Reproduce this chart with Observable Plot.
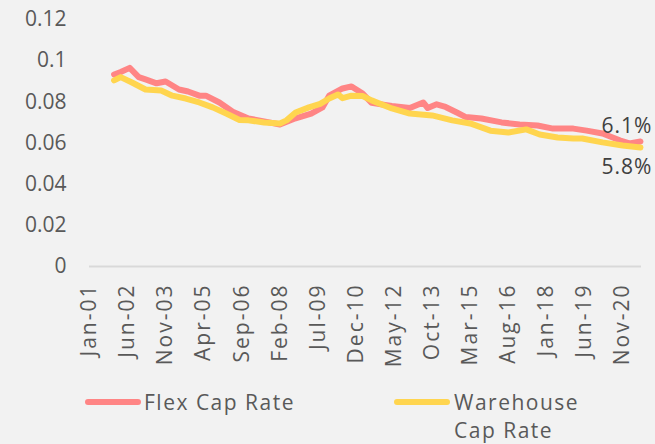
<!DOCTYPE html>
<html><head><meta charset="utf-8">
<script src="https://cdn.jsdelivr.net/npm/d3@7"></script>
<script src="https://cdn.jsdelivr.net/npm/@observablehq/plot@0.6"></script>
<style>
html,body{margin:0;padding:0;background:#f2f2f2;}
#wrap{position:relative;width:655px;height:444px;font-family:"Open Sans",sans-serif;color:#595959;overflow:hidden;}
#wrap svg{display:block;}
g[aria-label="x-axis tick label"] text{letter-spacing:2px;}
g[aria-label="text"] text{letter-spacing:1px;}
.sw{position:absolute;height:6px;border-radius:3px;width:56px;}
.lt{position:absolute;font-size:21px;line-height:28px;letter-spacing:1.5px;white-space:nowrap;}
</style></head><body><div id="wrap"></div>
<script>
const flexDates = ["2001-12","2002-03","2002-07","2002-11","2003-02","2003-07","2003-11","2004-05","2004-09","2005-02","2005-05","2005-11","2006-05","2006-12","2007-07","2008-02","2008-09","2009-04","2009-09","2009-12","2010-06","2010-10","2011-03","2011-07","2012-04","2012-12","2013-06","2013-08","2013-12","2014-04","2014-09","2015-01","2015-08","2016-05","2017-01","2017-09","2018-04","2019-01","2019-07","2020-02","2020-10","2021-02","2021-07"];
const flexValues = [0.0933,0.0945,0.0965,0.0920,0.0909,0.0890,0.0899,0.0860,0.0850,0.0830,0.0830,0.0797,0.0752,0.0719,0.0705,0.0690,0.0720,0.0743,0.0773,0.0830,0.0865,0.0875,0.0840,0.0795,0.0780,0.0770,0.0797,0.0770,0.0788,0.0775,0.0748,0.0726,0.0719,0.0700,0.0690,0.0685,0.0670,0.0670,0.0660,0.0646,0.0612,0.0598,0.0607];
const warehouseDates = ["2001-12","2002-03","2002-08","2003-02","2003-09","2004-02","2004-08","2005-02","2005-08","2006-02","2006-08","2006-12","2007-07","2008-02","2008-05","2008-09","2009-03","2009-08","2009-12","2010-04","2010-06","2010-10","2011-03","2011-07","2012-04","2012-12","2013-10","2014-07","2015-03","2015-12","2016-08","2017-04","2017-10","2018-06","2019-01","2019-05","2020-02","2020-11","2021-07"];
const warehouseValues = [0.0904,0.0920,0.0894,0.0860,0.0855,0.0830,0.0816,0.0797,0.0773,0.0743,0.0712,0.0710,0.0700,0.0695,0.0710,0.0748,0.0773,0.0790,0.0816,0.0836,0.0818,0.0830,0.0828,0.0807,0.0768,0.0743,0.0734,0.0710,0.0695,0.0660,0.0651,0.0666,0.0641,0.0627,0.0622,0.0622,0.0603,0.0588,0.0578];
const seriesNames = ["Flex Cap Rate","Warehouse Cap Rate"];
const seriesColors = ["#ff8585","#ffd54f"];
const endLabels = ["6.1%","5.8%"];
const yTicks = [0,0.02,0.04,0.06,0.08,0.1,0.12];
const yTickLabels = ["0","0.02","0.04","0.06","0.08","0.1","0.12"];
const xTickDates = ["2001-01","2002-06","2003-11","2005-04","2006-09","2008-02","2009-07","2010-12","2012-05","2013-10","2015-03","2016-08","2018-01","2019-06","2020-11"];
const xTickLabels = ["Jan-01","Jun-02","Nov-03","Apr-05","Sep-06","Feb-08","Jul-09","Dec-10","May-12","Oct-13","Mar-15","Aug-16","Jan-18","Jun-19","Nov-20"];

const parse = d3.utcParse("%Y-%m");
const flex = flexDates.map((d,i)=>({date:parse(d), value:flexValues[i]}));
const warehouse = warehouseDates.map((d,i)=>({date:parse(d), value:warehouseValues[i]}));
const xTicks = xTickDates.map(parse);
const xLabelOf = d => xTickLabels[xTicks.findIndex(t => +t === +d)];
const yLabelOf = d => yTickLabels[yTicks.indexOf(d)];

const chart = Plot.plot({
  width: 655, height: 380,
  marginLeft: 89, marginRight: 14, marginTop: 19, marginBottom: 114,
  style: {background: "#f2f2f2", color: "#595959", fontFamily: "'Open Sans', sans-serif", fontSize: "21px", overflow: "visible"},
  x: {type: "utc", domain: [new Date(Date.UTC(2001,0,1)), new Date(Date.UTC(2021,6,15))]},
  y: {domain: [0, 0.12]},
  marks: [
    Plot.ruleY([0], {stroke: "#d9d9d9", strokeWidth: 2}),
    Plot.axisY({ticks: yTicks, tickFormat: yLabelOf, tickSize: 0, tickPadding: 23, fontSize: 21, label: null}),
    Plot.axisX({ticks: xTicks, tickFormat: xLabelOf, tickRotate: -90, tickSize: 0, tickPadding: 17, fontSize: 21, label: null}),
    Plot.line(flex, {x: "date", y: "value", stroke: seriesColors[0], strokeWidth: 6, strokeLinejoin: "round", strokeLinecap: "round"}),
    Plot.line(warehouse, {x: "date", y: "value", stroke: seriesColors[1], strokeWidth: 6, strokeLinejoin: "round", strokeLinecap: "round"}),
    Plot.text([flex[flex.length-1]], {x: "date", y: "value", text: () => endLabels[0], textAnchor: "end", dx: 12, dy: -15, fill: "#404040", fontSize: 21}),
    Plot.text([warehouse[warehouse.length-1]], {x: "date", y: "value", text: () => endLabels[1], textAnchor: "end", dx: 12, dy: 20, fill: "#404040", fontSize: 21})
  ]
});
const wrap = document.getElementById("wrap");
wrap.appendChild(chart);

const legendPos = [{sw: 85, tx: 144}, {sw: 394, tx: 454}];
const legendText = [seriesNames[0], "Warehouse<br>Cap Rate"];
seriesNames.forEach((n, i) => {
  const sw = document.createElement("div");
  sw.className = "sw";
  sw.style.left = legendPos[i].sw + "px";
  sw.style.top = (380 + 19) + "px";
  sw.style.background = seriesColors[i];
  wrap.appendChild(sw);
  const t = document.createElement("div");
  t.className = "lt";
  t.style.left = legendPos[i].tx + "px";
  t.style.top = (380 + 8) + "px";
  t.innerHTML = legendText[i];
  wrap.appendChild(t);
});
</script></body></html>
